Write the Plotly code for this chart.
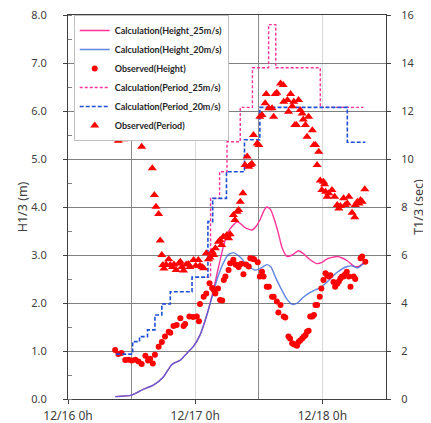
import plotly.graph_objects as go
from plotly.subplots import make_subplots

# ---- data (time in hours from 12/16 0h) ----
x_tick_vals = [0, 24, 48]
x_tick_text = ["12/16 0h", "12/17 0h", "12/18 0h"]

# Calculated wave height, 20 m/s wind
calc_h20_t = [8.9, 12.0, 14.2, 16.1, 18.0, 19.6, 21.2, 22.4, 23.7, 24.9, 26.2, 27.5, 28.3, 29.3, 30.2,
              31.2, 32.0, 32.8, 33.6, 34.4, 35.1, 35.9, 36.7, 37.5, 38.3, 39.1, 40.1, 41.3, 42.3, 43.3,
              44.4, 45.7, 47.0, 48.0, 48.9, 50.8, 52.7, 53.7, 54.6, 55.8]
calc_h20 = [0.05, 0.08, 0.20, 0.29, 0.46, 0.72, 0.81, 0.95, 1.10, 1.33, 1.75, 2.25, 2.55, 2.83, 3.00,
            3.05, 3.00, 2.92, 2.80, 2.74, 2.69, 2.70, 2.75, 2.80, 2.75, 2.55, 2.32, 2.08, 1.97, 2.00,
            2.12, 2.22, 2.29, 2.35, 2.44, 2.64, 2.76, 2.77, 2.73, 2.83]

# Calculated wave height, 25 m/s wind
calc_h25_t = [8.9, 12.0, 14.2, 16.1, 18.0, 19.6, 21.2, 22.4, 23.7, 24.9, 26.2, 27.5, 28.3, 29.3, 30.0,
              30.6, 31.9, 32.7, 33.4, 34.7, 35.5, 36.3, 37.0, 37.5, 38.2, 38.9, 39.7, 40.4, 41.3, 42.3,
              43.5, 44.4, 45.7, 47.0, 48.0, 48.9, 50.8, 52.7, 53.9, 54.8, 55.8]
calc_h25 = [0.05, 0.08, 0.20, 0.29, 0.46, 0.72, 0.81, 0.95, 1.10, 1.33, 1.75, 2.30, 2.70, 3.17, 3.42,
            3.55, 3.69, 3.64, 3.57, 3.52, 3.60, 3.75, 3.93, 4.00, 3.95, 3.75, 3.45, 3.15, 2.97, 3.00,
            3.09, 3.03, 2.90, 2.82, 2.85, 2.92, 2.97, 2.88, 2.77, 2.76, 2.83]

# Observed wave height
obs_h_t = [8.9, 9.5, 10.1, 10.8, 11.4, 12.0, 12.7, 13.3, 13.9, 14.6, 15.1, 15.5, 16.0, 16.4, 17.1,
           17.7, 18.3, 19.0, 19.3, 19.9, 20.5, 21.2, 21.8, 22.1, 22.9, 23.6, 24.3, 24.7, 24.9, 25.6,
           26.1, 26.7, 27.2, 27.5, 27.8, 28.3, 28.7, 29.1, 29.4, 29.7, 30.3, 30.6, 31.2, 31.6, 31.9,
           32.2, 32.7, 33.1, 33.6, 34.1, 34.4, 34.8, 35.1, 35.8, 36.2, 36.6, 36.9, 37.5, 37.9, 38.5,
           38.8, 39.4, 39.7, 40.1, 40.7, 41.0, 41.6, 41.9, 42.3, 42.6, 42.9, 43.2, 43.5, 43.8, 44.2,
           44.5, 44.8, 45.1, 45.4, 45.7, 46.1, 46.4, 46.7, 47.0, 47.5, 47.8, 48.2, 48.6, 48.9, 49.2,
           49.5, 50.1, 50.4, 50.8, 51.1, 51.4, 51.7, 52.0, 52.3, 52.6, 53.0, 53.3, 53.9, 54.2, 55.2,
           55.5, 56.1]
obs_h = [1.02, 0.94, 0.96, 0.81, 0.82, 0.80, 0.82, 0.78, 0.73, 0.90, 0.80, 0.84, 0.74, 0.92, 1.09,
         1.19, 1.30, 1.40, 1.38, 1.52, 1.54, 1.68, 1.52, 1.56, 1.72, 1.71, 1.72, 1.62, 1.98, 2.13,
         2.20, 2.41, 2.31, 2.27, 2.20, 2.30, 2.06, 2.05, 2.48, 2.55, 2.69, 2.83, 2.90, 2.80, 2.79,
         2.75, 2.82, 2.60, 2.80, 2.76, 2.93, 2.92, 2.91, 2.85, 2.55, 2.65, 2.55, 2.34, 2.34, 2.13,
         2.13, 2.03, 1.80, 1.96, 1.72, 1.70, 1.30, 1.26, 1.16, 1.14, 1.13, 1.11, 1.19, 1.22, 1.26,
         1.30, 1.33, 1.40, 1.42, 1.72, 1.72, 1.75, 1.96, 1.96, 2.13, 2.30, 2.48, 2.62, 2.58, 2.55,
         2.58, 2.44, 2.34, 2.40, 2.45, 2.51, 2.55, 2.55, 2.60, 2.65, 2.55, 2.34, 2.55, 2.50, 2.93,
         2.97, 2.86]

# Calculated wave period (step values), 25 m/s wind
calc_p25_t = [26.1, 26.9, 28.6, 30.0, 32.5, 34.8, 37.85, 39.2, 47.6, 55.75]
calc_p25 = [5.08, 8.36, 9.47, 10.72, 12.15, 13.8, 15.6, 13.8, 12.15, 12.15]

# Calculated wave period (step values), 20 m/s wind
calc_p20_t = [9.1, 12.2, 13.5, 15.0, 16.4, 17.7, 19.3, 23.4, 26.4, 27.3, 29.9, 33.3, 36.2, 52.7, 56.1]
calc_p20 = [1.87, 2.39, 2.60, 2.88, 3.50, 3.96, 4.47, 5.08, 7.39, 8.36, 9.47, 10.8, 12.15, 10.7, 10.7]

# Observed wave period
obs_p_t = [8.9, 9.5, 9.8, 10.1, 10.5, 11.1, 11.6, 12.0, 12.3, 12.7, 13.0, 13.3, 13.6, 13.9, 14.2,
           14.7, 15.1, 15.5, 15.9, 16.3, 16.6, 17.1, 17.4, 17.7, 17.9, 18.1, 18.5, 19.0, 19.3, 19.7,
           20.0, 20.4, 20.9, 21.2, 21.5, 21.8, 22.3, 22.7, 23.0, 23.7, 24.1, 24.6, 24.9, 25.3, 25.6,
           26.1, 26.5, 26.8, 27.2, 27.5, 27.8, 28.4, 28.7, 29.0, 29.3, 29.7, 30.0, 30.3, 30.6, 31.2,
           31.5, 31.9, 32.2, 32.5, 33.0, 33.4, 33.8, 34.1, 34.4, 34.7, 35.0, 35.7, 36.0, 36.2, 36.6,
           37.2, 37.4, 37.9, 38.5, 38.8, 39.1, 39.4, 40.1, 40.6, 40.7, 41.4, 41.6, 42.0, 42.3, 42.6,
           42.8, 43.1, 43.5, 43.8, 44.2, 44.4, 44.8, 45.1, 45.4, 46.1, 46.4, 46.7, 47.0, 47.3, 47.6,
           47.9, 48.2, 48.4, 48.6, 48.9, 49.2, 49.8, 50.3, 50.8, 51.1, 51.4, 52.0, 52.3, 52.7, 53.0,
           53.6, 54.1, 54.2, 54.6, 54.9, 55.2, 55.5, 56.0]
obs_p = [11.18, 10.76, 11.0, 11.14, 10.82, 11.35, 11.2, 11.46, 11.38, 11.38, 10.93, 11.25, 11.07, 10.51, 11.2,
         11.46, 11.25, 11.04, 9.61, 8.5, 8.01, 7.71, 6.6, 6.0, 5.58, 5.44, 5.6, 5.82, 5.58, 5.5,
         5.6, 5.375, 5.65, 5.72, 5.5, 5.35, 5.6, 5.62, 5.5, 5.79, 5.55, 5.79, 5.55, 5.5, 5.45,
         6.07, 5.82, 5.9, 6.14, 6.0, 6.28, 6.55, 6.62, 6.42, 6.76, 6.76, 6.83, 6.7, 6.86, 7.67,
         7.46, 7.8, 7.875, 8.22, 8.57, 9.75, 10.1, 9.68, 9.75, 9.8, 11.0, 10.65, 10.58, 11.76, 11.83,
         12.32, 12.71, 12.11, 12.11, 11.76, 12.71, 12.76, 13.15, 13.08, 12.39, 12.46, 11.97, 12.71, 12.2, 12.39,
         11.42, 11.42, 12.46, 12.04, 11.9, 11.65, 11.42, 10.93, 11.76, 11.2, 10.58, 10.58, 9.75, 10.3, 9.1,
         8.71, 9.05, 8.95, 8.64, 8.43, 8.57, 8.71, 8.43, 8.08, 7.94, 8.04, 8.36, 8.08, 8.15, 8.43,
         7.76, 7.57, 8.08, 8.22, 8.15, 8.29, 8.22, 8.74]

PINK = "#ff3399"
BLUE_SOLID = "#3a68dc"
BLUE_DASH = "#1d4fd6"
RED = "#ff0000"
TXT = "#404040"

fig = make_subplots(specs=[[{"secondary_y": True}]])

fig.add_trace(go.Scatter(x=calc_h25_t, y=calc_h25, mode="lines", name="Calculation(Height_25m/s)",
                         line=dict(color=PINK, width=1.4, shape="spline", smoothing=0.6)),
              secondary_y=False)
fig.add_trace(go.Scatter(x=calc_h20_t, y=calc_h20, mode="lines", name="Calculation(Height_20m/s)",
                         line=dict(color=BLUE_SOLID, width=1.4, shape="spline", smoothing=0.6),
                         opacity=0.8),
              secondary_y=False)
fig.add_trace(go.Scatter(x=obs_h_t, y=obs_h, mode="markers", name="Observed(Height)",
                         marker=dict(color=RED, size=6, symbol="circle")),
              secondary_y=False)
fig.add_trace(go.Scatter(x=calc_p25_t, y=calc_p25, mode="lines", name="Calculation(Period_25m/s)",
                         line=dict(color=PINK, width=1.4, dash="3px,2px", shape="hv")),
              secondary_y=True)
fig.add_trace(go.Scatter(x=calc_p20_t, y=calc_p20, mode="lines", name="Calculation(Period_20m/s)",
                         line=dict(color=BLUE_DASH, width=1.6, dash="4px,2px", shape="hv")),
              secondary_y=True)
fig.add_trace(go.Scatter(x=obs_p_t, y=obs_p, mode="markers", name="Observed(Period)",
                         marker=dict(color=RED, size=8, symbol="triangle-up")),
              secondary_y=True)

# page has an 8px body margin: figure is placed at (8, 8)
fig.update_layout(
    width=423, height=415,
    margin=dict(l=60, r=45, t=7, b=24, autoexpand=False),
    paper_bgcolor="white", plot_bgcolor="white",
    font=dict(family="Noto Sans", size=12, color=TXT),
    showlegend=True,
    legend=dict(
        x=0.018, y=1.0, xanchor="left", yanchor="top",
        bgcolor="white", bordercolor="#bfbfbf", borderwidth=1,
        font=dict(family="Lato", size=9, color="#262626", weight=700),
        itemwidth=30, tracegroupgap=0,
    ),
)

fig.update_xaxes(
    domain=[0, 1],
    range=[0, 60], tickmode="array", tickvals=x_tick_vals, ticktext=x_tick_text,
    showgrid=True, gridcolor="#d9d9d9", gridwidth=1,
    minor=dict(tick0=12, dtick=24, showgrid=True, gridcolor="#8c8c8c", gridwidth=1),
    showline=True, linecolor="#404040", linewidth=1, mirror=True,
    ticks="outside", ticklen=4, tickcolor="#404040", automargin=False,
    zeroline=False, tickfont=dict(size=12, color=TXT), ticklabelstandoff=2,
    ticklabeloverflow="allow",
)
fig.update_yaxes(
    range=[0, 8], dtick=1, tickformat=".1f", showgrid=True, gridcolor="#7f7f7f", gridwidth=1,
    showline=True, linecolor="#404040", linewidth=1, mirror=True,
    ticks="outside", ticklen=4, tickcolor="#404040", zeroline=False, automargin=False,
    minor=dict(dtick=0.5, ticks="inside", ticklen=4, tickcolor="#7f7f7f", showgrid=False),
    title=dict(text="H1/3 (m)", font=dict(size=12.5, color=TXT), standoff=0),
    tickfont=dict(size=11, color=TXT), ticklabelstandoff=14, ticklabeloverflow="allow",
    secondary_y=False,
)
fig.update_yaxes(
    range=[0, 16], dtick=2, showgrid=False,
    showline=True, linecolor="#404040", linewidth=1,
    ticks="outside", ticklen=4, tickcolor="#404040", zeroline=False, automargin=False,
    title=dict(text="T1/3 (sec)", font=dict(size=12.5, color=TXT), standoff=0),
    tickfont=dict(size=11, color=TXT), ticklabelstandoff=8, ticklabeloverflow="allow",
    secondary_y=True,
)

fig.write_html("out.html")
